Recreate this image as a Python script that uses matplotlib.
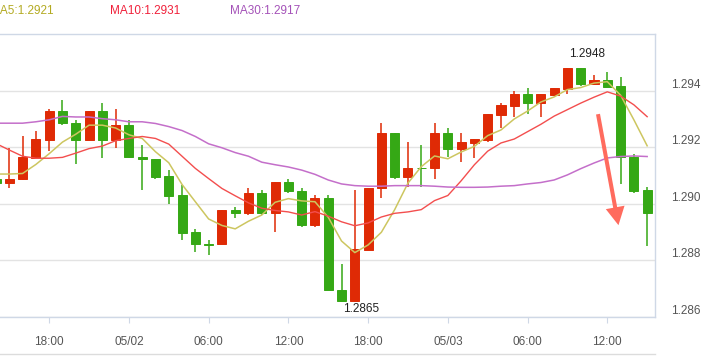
import matplotlib
matplotlib.use("Agg")
import matplotlib.pyplot as plt
import matplotlib.transforms as mtransforms
from matplotlib.patches import FancyArrowPatch
import numpy as np

plt.rcParams['font.family'] = ['Liberation Sans', 'DejaVu Sans']

# hourly candles, first one is only half visible at the left edge
opens = [1.29089, 1.29076, 1.29087, 1.29163, 1.29227, 1.29328, 1.29285, 1.29227, 1.29328, 1.29227,
         1.29280, 1.29168, 1.29161, 1.29099, 1.29031, 1.28901, 1.28860, 1.28857, 1.28979, 1.28967,
         1.29038, 1.28967, 1.29078, 1.29047, 1.28926, 1.29020, 1.28697, 1.28658, 1.28837, 1.29056,
         1.29250, 1.29097, 1.29129, 1.29128, 1.29250, 1.29196, 1.29216, 1.29227, 1.29316, 1.29346,
         1.29390, 1.29357, 1.29387, 1.29408, 1.29480, 1.29425, 1.29438, 1.29417, 1.29168, 1.29048]
highs = [1.29092, 1.29198, 1.29239, 1.29260, 1.29338, 1.29369, 1.29298, 1.29328, 1.29359, 1.29338,
         1.29297, 1.29209, 1.29161, 1.29120, 1.29068, 1.28911, 1.28871, 1.28979, 1.28990, 1.29058,
         1.29048, 1.29079, 1.29089, 1.29057, 1.29031, 1.29031, 1.28788, 1.29048, 1.29058, 1.29287,
         1.29250, 1.29219, 1.29208, 1.29287, 1.29270, 1.29250, 1.29229, 1.29318, 1.29359, 1.29401,
         1.29411, 1.29390, 1.29410, 1.29480, 1.29480, 1.29458, 1.29468, 1.29448, 1.29177, 1.29059]
lows = [1.29072, 1.29058, 1.29085, 1.29161, 1.29189, 1.29281, 1.29141, 1.29227, 1.29162, 1.29198,
        1.29162, 1.29049, 1.29090, 1.29001, 1.28871, 1.28830, 1.28820, 1.28857, 1.28950, 1.28960,
        1.28962, 1.28902, 1.29038, 1.28919, 1.28919, 1.28697, 1.28652, 1.28655, 1.28837, 1.29022,
        1.29090, 1.29061, 1.29061, 1.29090, 1.29168, 1.29150, 1.29162, 1.29220, 1.29270, 1.29309,
        1.29319, 1.29309, 1.29381, 1.29391, 1.29418, 1.29425, 1.29415, 1.29069, 1.29039, 1.28851]
closes = [1.29075, 1.29088, 1.29168, 1.29229, 1.29328, 1.29285, 1.29227, 1.29328, 1.29227, 1.29280,
          1.29165, 1.29158, 1.29097, 1.29028, 1.28898, 1.28857, 1.28856, 1.28979, 1.28967, 1.29038,
          1.28967, 1.29079, 1.29045, 1.28926, 1.29020, 1.28697, 1.28658, 1.28839, 1.29058, 1.29250,
          1.29096, 1.29129, 1.29128, 1.29250, 1.29196, 1.29219, 1.29229, 1.29318, 1.29349, 1.29390,
          1.29357, 1.29390, 1.29410, 1.29480, 1.29425, 1.29438, 1.29415, 1.29168, 1.29045, 1.28967]

ma5 = [1.29106, 1.29106, 1.29108, 1.29140, 1.29178, 1.29219, 1.29247, 1.29279, 1.29279, 1.29269,
       1.29245, 1.29232, 1.29185, 1.29146, 1.29069, 1.29008, 1.28947, 1.28924, 1.28912, 1.28939,
       1.28961, 1.29006, 1.29019, 1.29011, 1.29008, 1.28953, 1.28869, 1.28828, 1.28855, 1.28900,
       1.28980, 1.29074, 1.29132, 1.29170, 1.29160, 1.29184, 1.29204, 1.29242, 1.29262, 1.29301,
       1.29329, 1.29361, 1.29379, 1.29405, 1.29412, 1.29428, 1.29433, 1.29385, 1.29298, 1.29206]
ma10 = [1.29214, 1.29191, 1.29169, 1.29162, 1.29162, 1.29165, 1.29180, 1.29196, 1.29205, 1.29224,
        1.29232, 1.29239, 1.29232, 1.29212, 1.29169, 1.29126, 1.29090, 1.29055, 1.29029, 1.29004,
        1.28985, 1.28977, 1.28972, 1.28961, 1.28973, 1.28957, 1.28937, 1.28923, 1.28933, 1.28954,
        1.28967, 1.28972, 1.28980, 1.29012, 1.29030, 1.29082, 1.29139, 1.29187, 1.29216, 1.29230,
        1.29256, 1.29282, 1.29311, 1.29334, 1.29357, 1.29378, 1.29397, 1.29382, 1.29351, 1.29309]
ma30 = [1.29286, 1.29286, 1.29286, 1.29291, 1.29298, 1.29310, 1.29308, 1.29308, 1.29302, 1.29298,
        1.29291, 1.29291, 1.29285, 1.29274, 1.29260, 1.29239, 1.29213, 1.29199, 1.29182, 1.29169,
        1.29148, 1.29139, 1.29131, 1.29120, 1.29105, 1.29085, 1.29071, 1.29065, 1.29063, 1.29063,
        1.29065, 1.29065, 1.29065, 1.29063, 1.29060, 1.29059, 1.29059, 1.29060, 1.29063, 1.29065,
        1.29071, 1.29076, 1.29085, 1.29103, 1.29125, 1.29145, 1.29163, 1.29168, 1.29170, 1.29168]

tick_pos = [3, 9, 15, 21, 27, 33, 39, 45]
tick_labels = ["18:00", "05/02", "06:00", "12:00", "18:00", "05/03", "06:00", "12:00"]
ytick_vals = [1.286, 1.288, 1.290, 1.292, 1.294]

# hand drawn arrow (candle index, price)
arrow_from = (44.30, 1.29318)
arrow_to = (45.84, 1.28925)

RED = '#df2a05'
GREEN = '#35a815'

x = np.arange(-1, len(opens) - 1)
o = np.array(opens); h = np.array(highs); l = np.array(lows); c = np.array(closes)
up = c >= o
cols = np.where(up, RED, GREEN)

fig = plt.figure(figsize=(7.01, 3.56), dpi=100)
ax = fig.add_axes([0, 39 / 356, 655 / 701, 283 / 356])
ax.set_xlim(-0.70, 48.59)
ax.set_ylim(1.286341, 1.296017)

ax.vlines(x, l, h, colors=cols, lw=1.1, zorder=2)
ax.bar(x, c - o, bottom=o, width=0.68, color=cols, edgecolor=cols, linewidth=0.7, zorder=3)

ax.plot(x, ma5, color='#cdc660', lw=1.1, zorder=4)
ax.plot(x, ma10, color='#f34e4e', lw=1.0, zorder=4)
ax.plot(x, ma30, color='#c46fca', lw=1.1, zorder=4)

# grid + frame
ax.set_yticks(ytick_vals)
ax.yaxis.grid(True, color='#e3e3e3', lw=1)
ax.set_axisbelow(True)
ax.tick_params(axis='y', length=0, labelleft=False, labelright=False)
for s in ['left']:
    ax.spines[s].set_visible(False)
for s in ['right', 'bottom', 'top']:
    ax.spines[s].set_color('#cfd8e6')
    ax.spines[s].set_linewidth(1)

ax.set_xticks(tick_pos)
ax.set_xticklabels(tick_labels)
ax.tick_params(axis='x', direction='out', length=4, color='#cfd8e6', pad=10,
               labelsize=8.5, labelcolor='#555555')

ylab_tr = mtransforms.offset_copy(ax.get_yaxis_transform(), fig=fig, x=16, y=6, units='dots')
for v in ytick_vals:
    ax.text(1, v, f"{v:.3f}", transform=ylab_tr, ha='left', va='center',
            fontsize=8.5, color='#555555', clip_on=False)

# bottom rule under the date labels
ax.plot([0, 1], [-0.131, -0.131], transform=ax.transAxes, color='#dcdcdc', lw=1, clip_on=False)

# max / min labels
imax = int(np.argmax(h)); imin = int(np.argmin(l))
ax.annotate(f"{h[imax]:.4f}", (x[imax], h[imax]), xytext=(20, 14), textcoords='offset pixels',
            ha='center', va='center', fontsize=8.5, color='#222222')
ax.annotate(f"{l[imin]:.4f}", (x[imin], l[imin]), xytext=(20, -7), textcoords='offset pixels',
            ha='center', va='center', fontsize=8.5, color='#222222')

arr = FancyArrowPatch(arrow_from, arrow_to,
                      arrowstyle="simple,tail_width=0.29,head_width=1.37,head_length=1.3",
                      mutation_scale=10, color='#ff6b5e', lw=0, shrinkA=0, shrinkB=0, zorder=5)
ax.add_patch(arr)

# MA legend along the top
fig.text(-10 / 701, 1 - 11 / 356, f"MA5:{ma5[-1]:.4f}", color='#b3aa22', fontsize=8.5, va='center')
fig.text(110 / 701, 1 - 11 / 356, f"MA10:{ma10[-1]:.4f}", color='#f0203a', fontsize=8.5, va='center')
fig.text(230 / 701, 1 - 11 / 356, f"MA30:{ma30[-1]:.4f}", color='#a452b8', fontsize=8.5, va='center')

fig.savefig("out.png", dpi=100)
